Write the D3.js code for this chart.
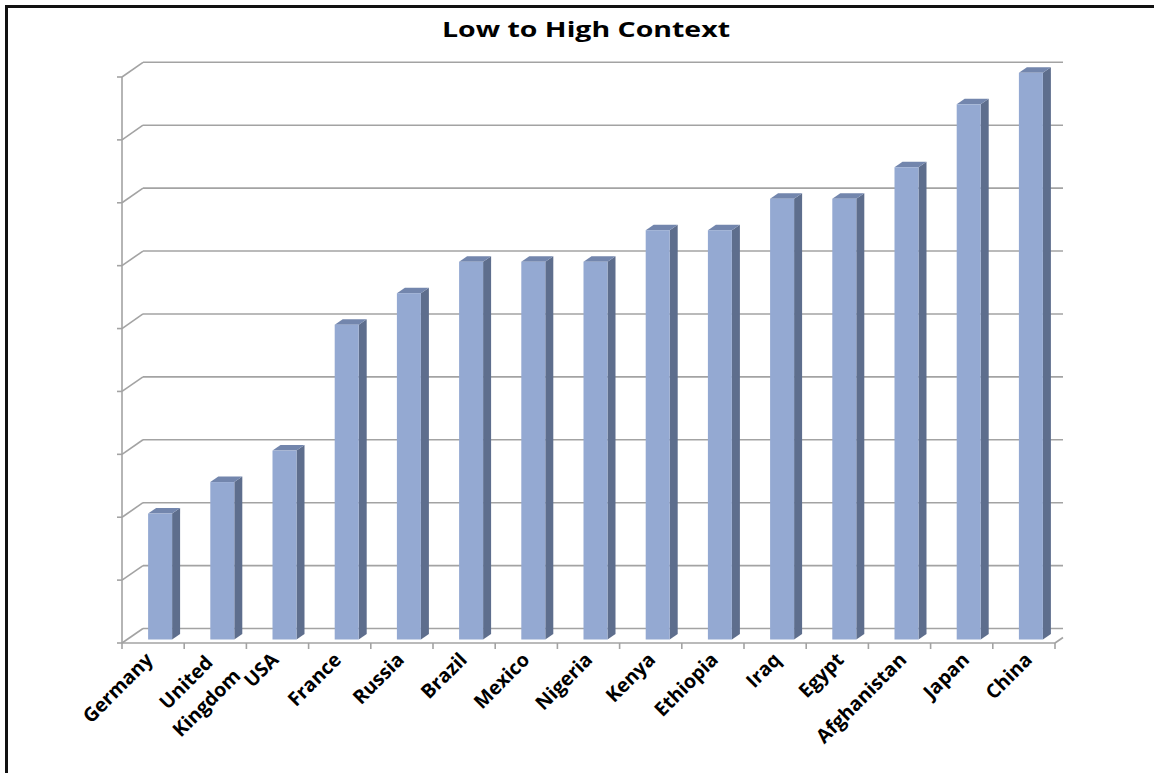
<!DOCTYPE html>
<html>
<head>
<meta charset="utf-8">
<script src="https://cdn.jsdelivr.net/npm/d3@7"></script>
<style>
  html, body { margin: 0; padding: 0; background: #fff; }
  svg { display: block; }
</style>
</head>
<body>
<svg id="chart" width="1154" height="773"></svg>
<script>
// Countries ordered from low- to high-context communication
const categories = ["Germany", "United Kingdom", "USA", "France", "Russia", "Brazil", "Mexico",
  "Nigeria", "Kenya", "Ethiopia", "Iraq", "Egypt", "Afghanistan", "Japan", "China"];
const contextScores = [2, 2.5, 3, 5, 5.5, 6, 6, 6, 6.5, 6.5, 7, 7, 7.5, 8.5, 9];
const gridValues = [0, 1, 2, 3, 4, 5, 6, 7, 8, 9];
const chartTitle = "Low to High Context";

const svg = d3.select("#chart");

// Oblique 3D frame: front floor edge, back wall offset up and to the right
const depthX = 21, depthY = -14.5;
const x = d3.scaleBand().domain(categories).range([122, 1055]).padding(0);
const yFront = d3.scaleLinear().domain([0, 9]).range([643, 77]);
const yBack = d3.scaleLinear().domain([0, 9]).range([643 + depthY, 62.3]);
const yBar = d3.scaleLinear().domain([0, 9]).range([639.5, 72.8]);

const gridColor = "#a3a3a3";
const fontStack = "'Open Sans', 'Noto Sans', sans-serif";

// Outer frame
svg.append("path")
  .attr("d", "M6.5,773 V6.5 H1154")
  .attr("fill", "none").attr("stroke", "#111").attr("stroke-width", 3);

// Title
svg.append("text")
  .attr("x", 586).attr("y", 37)
  .attr("text-anchor", "middle")
  .attr("font-family", fontStack)
  .attr("font-weight", 700).attr("font-size", 22)
  .attr("textLength", 288).attr("lengthAdjust", "spacingAndGlyphs")
  .attr("fill", "#000")
  .text(chartTitle);

const frame = svg.append("g").attr("stroke", gridColor).attr("stroke-width", 1.6).attr("fill", "none");

// Back-wall gridlines
frame.selectAll("line.grid").data(gridValues).join("line")
  .attr("class", "grid")
  .attr("x1", 122 + depthX).attr("x2", 1063)
  .attr("y1", d => yBack(d)).attr("y2", d => yBack(d));

// Side-wall connectors from the front axis to the back wall
frame.selectAll("line.side").data(gridValues).join("line")
  .attr("class", "side")
  .attr("x1", 122).attr("x2", 122 + depthX)
  .attr("y1", d => yFront(d)).attr("y2", d => yBack(d));

// Bars: front face, right side, top
const barW = 24, barShift = 7, sideDx = 8, sideDy = -5.5;
const bars = svg.append("g").selectAll("g.bar")
  .data(categories.map((c, i) => ({ c, v: contextScores[i] })))
  .join("g").attr("class", "bar");

bars.append("polygon")
  .attr("fill", "#5e6e8d")
  .attr("points", d => {
    const x0 = x(d.c) + x.bandwidth() / 2 + barShift - barW / 2 + barW;
    const top = yBar(d.v), bot = yBar(0);
    return [[x0, top], [x0 + sideDx, top + sideDy], [x0 + sideDx, bot + sideDy], [x0, bot]].join(" ");
  });

bars.append("polygon")
  .attr("fill", "#7386ad")
  .attr("points", d => {
    const x0 = x(d.c) + x.bandwidth() / 2 + barShift - barW / 2;
    const top = yBar(d.v);
    return [[x0, top], [x0 + sideDx, top + sideDy], [x0 + barW + sideDx, top + sideDy], [x0 + barW, top]].join(" ");
  });

bars.append("rect")
  .attr("fill", "#94a9d2")
  .attr("x", d => x(d.c) + x.bandwidth() / 2 + barShift - barW / 2)
  .attr("y", d => yBar(d.v))
  .attr("width", barW)
  .attr("height", d => yBar(0) - yBar(d.v));

// Front value axis (no labels) with outward ticks
const axisG = svg.append("g").attr("stroke", gridColor).attr("stroke-width", 1.6).attr("fill", "none");
axisG.append("line").attr("x1", 122).attr("x2", 122).attr("y1", yFront(9)).attr("y2", yFront(0));
axisG.selectAll("line.ytick").data(gridValues).join("line")
  .attr("class", "ytick")
  .attr("x1", 117).attr("x2", 122)
  .attr("y1", d => yFront(d)).attr("y2", d => yFront(d));

// Front floor edge with category dividers
axisG.append("line").attr("x1", 122).attr("x2", 1055).attr("y1", 643).attr("y2", 643);
const dividers = d3.range(categories.length + 1).map(i => 122 + i * x.step());
axisG.selectAll("line.xtick").data(dividers).join("line")
  .attr("class", "xtick")
  .attr("x1", d => d).attr("x2", d => d)
  .attr("y1", 643).attr("y2", 649);
axisG.append("line").attr("x1", 1055).attr("x2", 1063).attr("y1", 643).attr("y2", 637.5);

// Category labels, slanted at 45 degrees; multi-line labels are centred on each other
const labels = svg.append("g")
  .attr("font-family", fontStack)
  .attr("font-weight", 700).attr("font-size", 19.5).attr("fill", "#000");

labels.selectAll("text").data(categories).join("text")
  .attr("text-anchor", "end")
  .attr("transform", (d, i) => `translate(${x(d) + x.bandwidth() / 2 + 1 + i * 0.6},${661}) rotate(-45)`)
  .each(function (d) {
    const t = d3.select(this);
    const parts = d.split(" ");
    if (parts.length === 1) {
      t.text(d);
      return;
    }
    const spans = parts.map((p, i) => t.append("tspan").attr("x", 0).attr("y", i * 29).text(p));
    const lens = spans.map(s => s.node().getComputedTextLength());
    spans.forEach((s, i) => s.attr("x", (lens[i] - lens[0]) / 2 - 4));
  });
</script>
</body>
</html>
